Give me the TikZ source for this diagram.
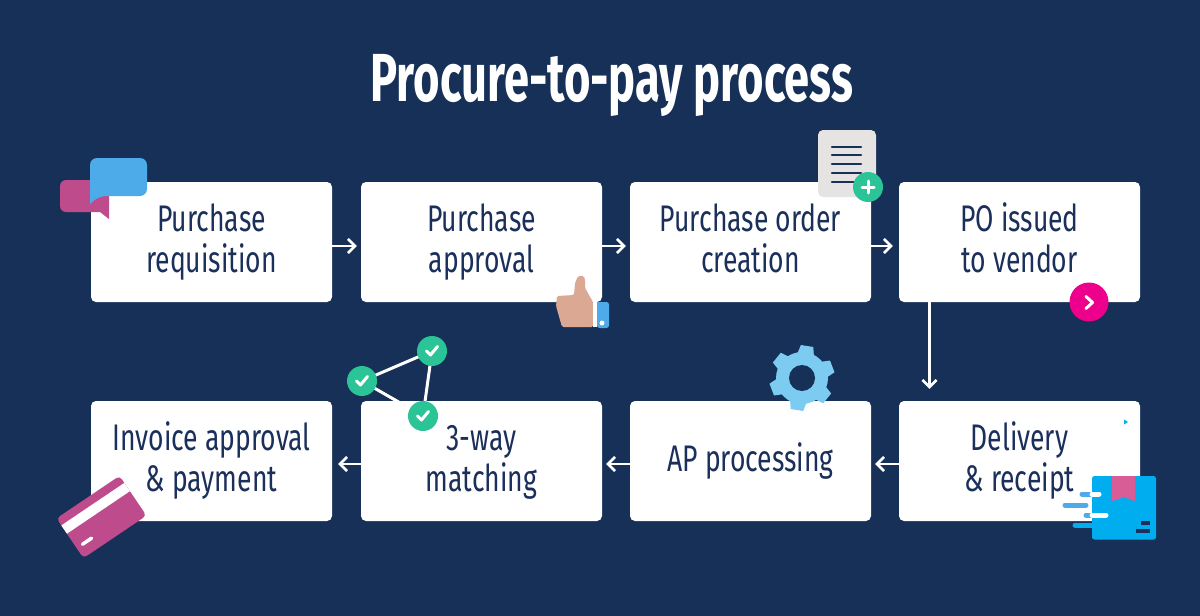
\documentclass[tikz,border=0pt]{standalone}
\usepackage{fontspec}
\setmainfont[FakeStretch=0.717]{Fira Sans}
\newfontfamily\titlefont[FakeStretch=0.666]{Fira Sans}
\newcommand\lns[2]{\vphantom{g}\vphantom{\raisebox{2pt}{P}}#1\\\vphantom{Pg}#2}
\usetikzlibrary{arrows.meta}
\definecolor{bgnavy}{HTML}{163058}
\definecolor{txtnavy}{HTML}{1B2F5B}
\definecolor{magent}{HTML}{BE4B8B}
\definecolor{skyb}{HTML}{4DABE9}
\definecolor{skin}{HTML}{DBA894}
\definecolor{paper}{HTML}{E6E4E3}
\definecolor{greenc}{HTML}{2BC497}
\definecolor{gearb}{HTML}{7CCBF0}
\definecolor{boxb}{HTML}{00AEEF}
\definecolor{ribbon}{HTML}{D85C96}
\definecolor{hotpink}{HTML}{EC008C}
\tikzset{
  stepbox/.style={fill=white,rounded corners=5pt,minimum width=241pt,minimum height=120pt,inner sep=0pt,align=center,text=txtnavy,font=\fontsize{37}{41}\selectfont},
  flow/.style={draw=white,line width=2.6pt,-{Straight Barb[length=7pt,width=14pt,line width=2.6pt]}},
  tick/.style={draw=white,line width=3pt,line cap=round,line join=round},
  speed/.style={line width=5pt,line cap=round},
}
\begin{document}
\begin{tikzpicture}[x=1pt,y=-1pt]
\useasboundingbox (0,0) rectangle (1200,616);
\fill[bgnavy] (0,0) rectangle (1200,616);
\node[text=white,font=\titlefont\fontsize{68}{72}\bfseries\selectfont] (title) at (612,85) {Procure-to-pay process};
% check-graph lines are behind the boxes
\coordinate (ca) at (432,351);
\coordinate (cb) at (362,381);
\coordinate (cc) at (423,416);
\draw[white,line width=3pt] (ca)--(cb)--(cc)--cycle;
% boxes
\node[stepbox] (b1) at (211.5,242) {\lns{Purchase}{requisition}};
\node[stepbox] (b2) at (481.5,242) {\lns{Purchase}{approval}};
\node[stepbox] (b3) at (750.5,242) {\lns{Purchase order}{creation}};
\node[stepbox] (b4) at (1019.5,242) {\lns{PO issued}{to vendor}};
\node[stepbox] (b5) at (1019.5,461) {\lns{Delivery}{\& receipt}};
\node[stepbox] (b6) at (750.5,461) {\vphantom{Pg}AP processing};
\node[stepbox] (b7) at (481.5,461) {\lns{3-way}{matching}};
\node[stepbox] (b8) at (211.5,461) {\lns{Invoice approval}{\& payment}};
% connectors
\draw[flow,shorten >=4pt] ([yshift=-4pt]b1.east) -- ([yshift=-4pt]b2.west);
\draw[flow,shorten >=4pt] ([yshift=-4pt]b2.east) -- ([yshift=-4pt]b3.west);
\draw[flow,shorten >=6pt] ([yshift=-4pt]b3.east) -- ([yshift=-4pt]b4.west);
\draw[flow,shorten >=12pt] ([xshift=-90pt]b4.south) -- ([xshift=-90pt]b5.north);
\draw[flow,shorten >=4pt] ([yshift=-3pt]b5.west) -- ([yshift=-3pt]b6.east);
\draw[flow,shorten >=4pt] ([yshift=-3pt]b6.west) -- ([yshift=-3pt]b7.east);
\draw[flow,shorten >=6pt] ([yshift=-3pt]b7.west) -- ([yshift=-3pt]b8.east);
% speech bubbles
\fill[magent,rounded corners=6pt] (60,195) -- (60,180) -- (109,180) -- (109,200) [sharp corners] -- (109,219) -- (100,212) [rounded corners=6pt] -- (60,212) -- cycle;
\fill[skyb,rounded corners=7pt] (90,175) -- (90,158) -- (147,158) -- (147,196) -- (99,196) [sharp corners] -- (90,204) -- cycle;
% thumb
\fill[skin,rounded corners=1.5pt] (557,296) -- (574,295) -- (575,283) -- (578,276) -- (584,276) -- (585,280) -- (585,288) -- (593,302) -- (593,327) -- (562,327) -- (560,320) -- (558,313) -- (556,306) -- cycle;
\fill[white] (593,302) rectangle (597,327);
\fill[skyb,rounded corners=2.5pt] (597,302) -- (609,302) -- (609,328) -- (597,328) [sharp corners] -- cycle;
\fill[white] (602,323) circle (2.5);
% document
\fill[paper,rounded corners=5pt] (818,130) rectangle (876,197);
\foreach \yy in {147,155,164,173,182}
  \draw[txtnavy,line width=2.6pt,line cap=round] (832,\yy) -- (861,\yy);
\fill[greenc] (868,187) circle (15);
\draw[white,line width=3pt,line cap=round] (862,187) -- (874,187) (868,181) -- (868,193);
% pink button
\fill[hotpink] (1089,302) circle (19.5);
\draw[white,line width=3pt,line cap=round,line join=round] (1086,296.5) -- (1092.5,302.5) -- (1086,308.5);
% gear
\begin{scope}[shift={(802,378)},x=1pt,y=1pt]
  \fill[gearb] (0,0) circle (26);
  \foreach \a in {81,21,-39,-99,-159,141}
    \fill[gearb] (\a-21:24) -- (\a-11:33) -- (\a+11:33) -- (\a+21:24) -- cycle;
  \fill[bgnavy] (0,0) circle (13);
\end{scope}
% delivery box
\fill[boxb] (1124,419.5) -- (1128,422) -- (1124,424.5) -- cycle;
\fill[boxb,rounded corners=2.5pt] (1092,476) rectangle (1156,539.5);
\fill[ribbon] (1112,476) -- (1135,476) -- (1135,501) -- (1124,497) -- (1112,501) -- cycle;
\fill[txtnavy] (1141,521) rectangle (1150,525);
\fill[txtnavy] (1136,529) rectangle (1150,533);
\draw[skyb,speed] (1082,494) -- (1092,494);
\draw[white,speed] (1092,494) -- (1099,494);
\draw[skyb,speed] (1065,505) -- (1086,505);
\draw[skyb,speed] (1086,515) -- (1092,515);
\draw[white,speed] (1092,515) -- (1106,515);
\draw[boxb,speed] (1075,525) -- (1092,525);
% check graph circles
\foreach \c in {ca,cb,cc}{
  \fill[greenc] (\c) circle (15);
  \draw[tick] ([shift={(-5.5pt,0pt)}]\c) -- ([shift={(-1.5pt,-4pt)}]\c) -- ([shift={(5.5pt,4.5pt)}]\c);
}
% card
\begin{scope}[shift={(101.5,517)},x=1pt,y=1pt,rotate=34]
  \fill[magent,rounded corners=4pt] (-38,-24) rectangle (38,24);
  \fill[white] (-38,5.5) rectangle (38,15.5);
  \draw[white,line width=3.5pt,line cap=round] (-31,-12) -- (-20,-12);
\end{scope}
\end{tikzpicture}
\end{document}
